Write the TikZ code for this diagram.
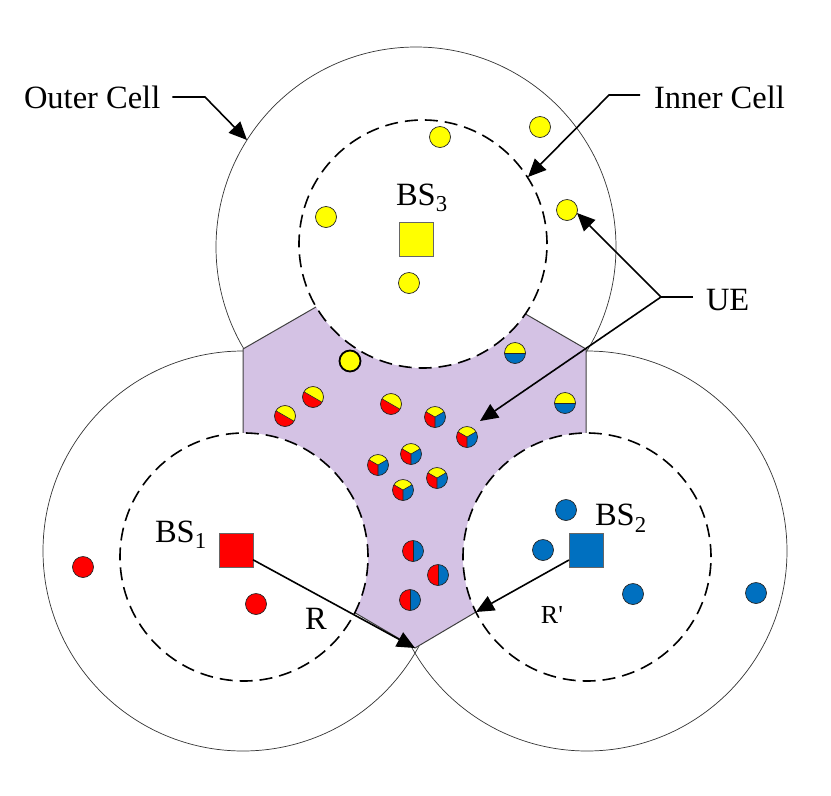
\documentclass[tikz,border=0pt]{standalone}
\usepackage{fontspec}
\setmainfont{Liberation Serif}
\newfontfamily\plainserif{Liberation Serif}
\usetikzlibrary{arrows.meta,calc}
\definecolor{uered}{HTML}{FF0000}
\definecolor{ueyel}{HTML}{FFFF00}
\definecolor{ueblu}{HTML}{0070C0}
\definecolor{cellpurple}{HTML}{D4C2E4}
\tikzset{
  x=1pt,y=1pt,
  outercell/.style={circle,draw=black!80,line width=0.7pt,minimum size=400pt,inner sep=0pt,outer sep=0pt},
  innercell/.style={circle,draw=black,fill=white,line width=1.6pt,dash pattern=on 13pt off 7pt,minimum size=248pt,inner sep=0pt,outer sep=0pt},
  bsq/.style={rectangle,draw=black!60,line width=0.6pt,minimum size=34pt,inner sep=0pt,outer sep=0pt},
  uedot/.style={circle,draw=black!85,line width=0.7pt,minimum size=21pt,inner sep=0pt,outer sep=0pt},
  ueyellow/.style={uedot,fill=ueyel},
  uered1/.style={uedot,fill=uered},
  uebl/.style={uedot,fill=ueblu},
  uebold/.style={uedot,fill=ueyel,line width=1.8pt,draw=black},
  sector/.style={path picture={\begin{scope}[shift={(path picture bounding box.center)}]#1\end{scope}}},
  ueyb/.style={uedot,sector={\fill[ueyel] (-12,0) rectangle (12,12);\fill[ueblu] (-12,0) rectangle (12,-12);\draw[black!85,line width=0.6pt] (-12,0)--(12,0);}},
  uery/.style={uedot,fill=uered,sector={\fill[ueyel] (150:12) arc (150:-30:12) -- cycle;\draw[black!85,line width=0.6pt] (150:12)--(-30:12);}},
  uerb/.style={uedot,sector={\fill[uered] (0,-12) rectangle (-12,12);\fill[ueblu] (0,-12) rectangle (12,12);\draw[black!85,line width=0.6pt] (0,-12)--(0,12);}},
  uetri/.style={uedot,sector={\fill[ueyel] (0,0) -- (150:14) arc (150:30:14) -- cycle;\fill[ueblu] (0,0) -- (30:14) arc (30:-90:14) -- cycle;\fill[uered] (0,0) -- (-90:14) arc (-90:-210:14) -- cycle;\draw[black!85,line width=0.6pt] (150:12)--(0,0)--(30:12) (0,0)--(-90:12);}},
  lbl/.style={font=\fontsize{32.5}{36}\selectfont,inner sep=0pt,outer sep=0pt},
  lead/.style={draw=black,line width=1.6pt},
  arr/.style={lead,-{Triangle[length=18pt,width=16pt]}}
}
\begin{document}
\begin{tikzpicture}
\useasboundingbox (0,0) rectangle (831,-796);
% outer cells
\node[outercell] (O3) at (416,-247) {};
\node[outercell] (O1) at (243,-551) {};
\node[outercell] (O2) at (587,-551) {};
% common region
\path[fill=cellpurple,draw=black!75,line width=1pt]
  (243,-349) -- (415,-250) -- (586,-349) -- (586,-547) -- (415,-648) -- (243,-547) -- cycle;
% inner cells
\node[innercell] (I3) at (423,-244) {};
\node[innercell] (I1) at (244,-557) {};
\node[innercell] (I2) at (587,-557) {};
% base stations
\node[bsq,fill=ueyel] (bs3) at (416,-239) {};
\node[bsq,fill=uered] (bs1) at (236,-550.5) {};
\node[bsq,fill=ueblu] (bs2) at (586,-550.5) {};
% labels
\node[lbl,anchor=west] (outer) at (24,-97) {Outer Cell};
\node[lbl,anchor=west] (inner) at (654,-97) {Inner Cell};
\node[lbl,anchor=west] (ue) at (706,-300) {UE};
\node[lbl,anchor=west] (l3) at (396,-198) {BS\textsubscript{3}};
\node[lbl,anchor=west] (l1) at (155,-535) {BS\textsubscript{1}};
\node[lbl,anchor=west] (l2) at (595,-518) {BS\textsubscript{2}};
\node[lbl] (r) at (316,-619) {R};
\node[lbl,font=\fontsize{26}{30}\selectfont] (rp) at (552,-615) {\plainserif R'};
% users
\node[ueyellow] (u1) at (440,-137) {};
\node[ueyellow] (u2) at (540,-127) {};
\node[ueyellow] (u3) at (567,-210) {};
\node[ueyellow] (u4) at (326,-217) {};
\node[ueyellow] (u5) at (409,-283) {};
\node[uebold] (u6) at (350,-361) {};
\node[uered1] (u7) at (83,-567) {};
\node[uered1] (u8) at (256,-604) {};
\node[uebl] (u9) at (566,-510) {};
\node[uebl] (u10) at (543,-550) {};
\node[uebl] (u11) at (633,-594) {};
\node[uebl] (u12) at (756,-593) {};
\node[ueyb] (u13) at (515,-353) {};
\node[ueyb] (u14) at (565,-403) {};
\node[uery] (u15) at (285,-416) {};
\node[uery] (u16) at (313,-397) {};
\node[uery] (u17) at (391,-404) {};
\node[uetri] (u18) at (435,-417) {};
\node[uetri] (u19) at (467,-437) {};
\node[uetri] (u20) at (411,-454) {};
\node[uetri] (u21) at (378,-465) {};
\node[uetri] (u22) at (437,-478) {};
\node[uetri] (u23) at (403,-490) {};
\node[uerb] (u24) at (413,-551) {};
\node[uerb] (u25) at (438,-575) {};
\node[uerb] (u26) at (410,-600) {};
% connector coordinates
\coordinate (outerbend) at (205,-97);
\coordinate (outertip) at (247,-140);
\coordinate (innerbend) at (609,-95);
\coordinate (innertip) at (528,-177);
\coordinate (uejoin) at (661,-297);
\coordinate (uetipa) at (577,-213);
\coordinate (uetip) at (480,-421);
\coordinate (apex) at (415,-648);
\coordinate (rptip) at (476,-612);
% connectors
\draw[arr] ($(outer.east)+(12,0)$) -- (outerbend) -- (outertip);
\draw[arr] ($(inner.west)+(-14,2)$) -- (innerbend) -- (innertip);
\draw[lead] ($(ue.west)+(-13,3)$) -- (uejoin);
\draw[arr] (uejoin) -- (uetipa);
\draw[arr] (uejoin) -- (uetip);
\draw[arr] (bs1) -- (apex);
\draw[arr] (bs2) -- (rptip);
\end{tikzpicture}
\end{document}
